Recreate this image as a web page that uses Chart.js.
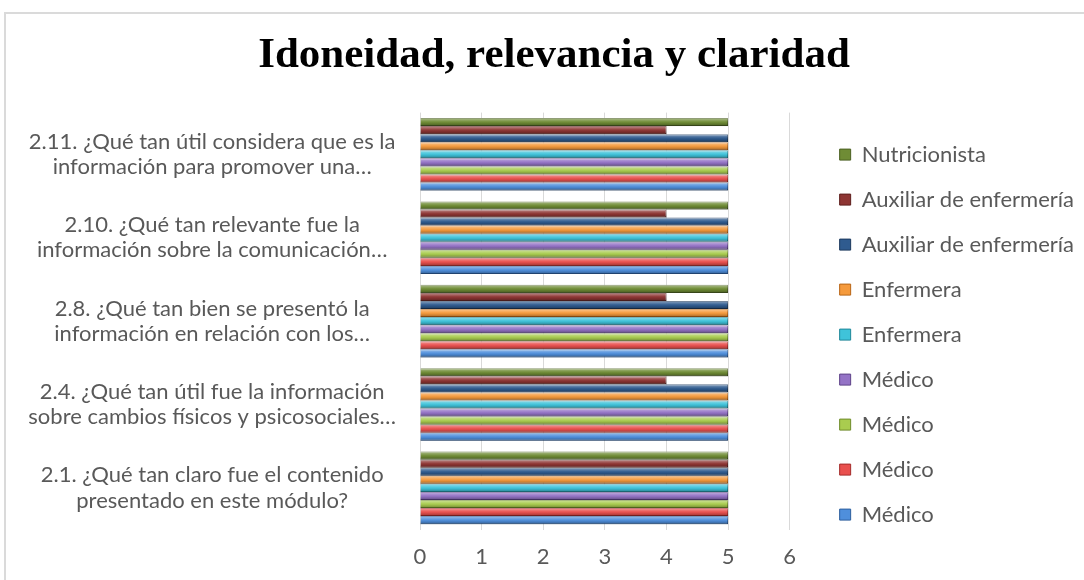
<!DOCTYPE html>
<html>
<head>
<meta charset="utf-8">
<script src="https://cdn.jsdelivr.net/npm/chart.js@4/dist/chart.umd.min.js"></script>
<style>
  html, body { margin: 0; padding: 0; background: #fff; overflow: hidden; }
  #frame { position: absolute; left: 4px; top: 12px; width: 1200px; height: 700px; border: 2px solid #dadada; }
  #wrap { position: absolute; left: 0; top: 0; width: 1084px; height: 580px; }
</style>
</head>
<body>
<div id="frame"></div>
<div id="wrap"><canvas id="bestBar" width="1084" height="580"></canvas></div>
<script>
// questions, top to bottom as drawn
const questions = [
    ['2.11. ¿Qué tan útil considera que es la', 'información para promover una…'],
    ['2.10. ¿Qué tan relevante fue la', 'información sobre la comunicación…'],
    ['2.8. ¿Qué tan bien se presentó la', 'información en relación con los…'],
    ['2.4. ¿Qué tan útil fue la información', 'sobre cambios físicos y psicosociales…'],
    ['2.1. ¿Qué tan claro fue el contenido', 'presentado en este módulo?']
];
const xTicks = [0, 1, 2, 3, 4, 5, 6];

const nutricionista = [5, 5, 5, 5, 5];
const auxiliar_2 = [4, 4, 4, 4, 5];
const auxiliar_1 = [5, 5, 5, 5, 5];
const enfermera_2 = [5, 5, 5, 5, 5];
const enfermera_1 = [5, 5, 5, 5, 5];
const medico_4 = [5, 5, 5, 5, 5];
const medico_3 = [5, 5, 5, 5, 5];
const medico_2 = [5, 5, 5, 5, 5];
const medico_1 = [5, 5, 5, 5, 5];

const series_names = ['Nutricionista', 'Auxiliar de enfermería', 'Auxiliar de enfermería', 'Enfermera', 'Enfermera', 'Médico', 'Médico', 'Médico', 'Médico'];
const series_values = [nutricionista, auxiliar_2, auxiliar_1, enfermera_2, enfermera_1, medico_4, medico_3, medico_2, medico_1];
const series_colours = ['#6f8c35', '#8e3533', '#2f5b8f', '#f59a3c', '#3fc3da', '#9473c6', '#a9cc4f', '#e9504e', '#4f8fdc'];
const series_borders = ['#4b6022', '#5e1f1d', '#1c3a5e', '#b86516', '#1f8799', '#5f4389', '#6f8c2a', '#a52c2a', '#2d5f9e'];

// light top / dark bottom on every bar, like the Office bevel
const bevelPlugin = {
    id: 'bevel',
    afterDatasetsDraw(chart) {
        const ctx = chart.ctx;
        chart.data.datasets.forEach((ds, i) => {
            chart.getDatasetMeta(i).data.forEach(bar => {
                const p = bar.getProps(['x', 'y', 'base', 'height'], true);
                const top = p.y - p.height / 2;
                const g = ctx.createLinearGradient(0, top, 0, top + p.height);
                g.addColorStop(0, 'rgba(255,255,255,0.45)');
                g.addColorStop(0.45, 'rgba(255,255,255,0.05)');
                g.addColorStop(0.6, 'rgba(0,0,0,0.05)');
                g.addColorStop(1, 'rgba(0,0,0,0.35)');
                ctx.save();
                ctx.fillStyle = g;
                ctx.fillRect(p.base, top, p.x - p.base, p.height);
                ctx.restore();
            });
        });
    }
};

// let the legend keep all nine items in one column
const legendRoom = {
    id: 'legendRoom',
    beforeInit(chart) {
        const legend = chart.legend;
        const fit = legend.fit;
        const draw = legend.draw;
        legend.fit = function () {
            const h = this.maxHeight;
            this.maxHeight = 1000;
            fit.call(this);
            this.maxHeight = h;
            this.height = h;
        };
        legend.draw = function () {
            const b = this.bottom;
            this.bottom = b + 200;
            draw.call(this);
            this.bottom = b;
        };
    }
};

function createSummaryBar() {
    const barData = {
        labels: questions,
        datasets: series_values.map((vals, i) => ({
            label: series_names[i],
            data: vals,
            backgroundColor: series_colours[i],
            borderColor: series_borders[i],
            borderWidth: 1,
            categoryPercentage: 0.87,
            barPercentage: 1.0
        }))
    };
    const barConfig = {
        type: 'bar',
        data: barData,
        options: {
            indexAxis: 'y',
            responsive: false,
            animation: false,
            layout: { padding: { left: 24, top: 30, right: 0, bottom: -4 } },
            plugins: {
                title: {
                    display: true,
                    text: 'Idoneidad, relevancia y claridad',
                    color: '#000',
                    font: { family: 'Liberation Serif', size: 43, weight: 'bold' },
                    padding: { top: 0, bottom: 31 }
                },
                legend: {
                    position: 'right',
                    align: 'start',
                    fullSize: false,
                    maxWidth: 400,
                    title: { display: true, text: ' ', font: { size: 5 }, padding: { top: 2, bottom: 0 } },
                    labels: {
                        color: '#595959',
                        font: { family: 'Lato', size: 22 },
                        boxWidth: 11,
                        boxHeight: 11,
                        padding: 23
                    }
                },
                tooltip: { enabled: false }
            },
            scales: {
                x: {
                    min: 0,
                    max: 6,
                    afterBuildTicks: s => { s.ticks = xTicks.map(v => ({ value: v })); },
                    grid: { color: '#d9d9d9', drawTicks: false },
                    border: { display: false },
                    ticks: { color: '#595959', font: { family: 'Lato', size: 22 }, padding: 14 }
                },
                y: {
                    grid: { display: false },
                    border: { display: false },
                    afterFit: s => { s.width = 396; },
                    ticks: { color: '#595959', font: { family: 'Lato', size: 22, lineHeight: 1.15 }, crossAlign: 'center', padding: 16 }
                },
                gap: {
                    axis: 'y',
                    type: 'linear',
                    position: 'right',
                    display: true,
                    grid: { display: false },
                    border: { display: false },
                    ticks: { display: false },
                    afterFit: s => { s.width = 27; }
                }
            }
        },
        plugins: [bevelPlugin, legendRoom]
    };
    var bestBar = new Chart(
        document.getElementById('bestBar'),
        barConfig
    );
}

createSummaryBar();
</script>
</body>
</html>
